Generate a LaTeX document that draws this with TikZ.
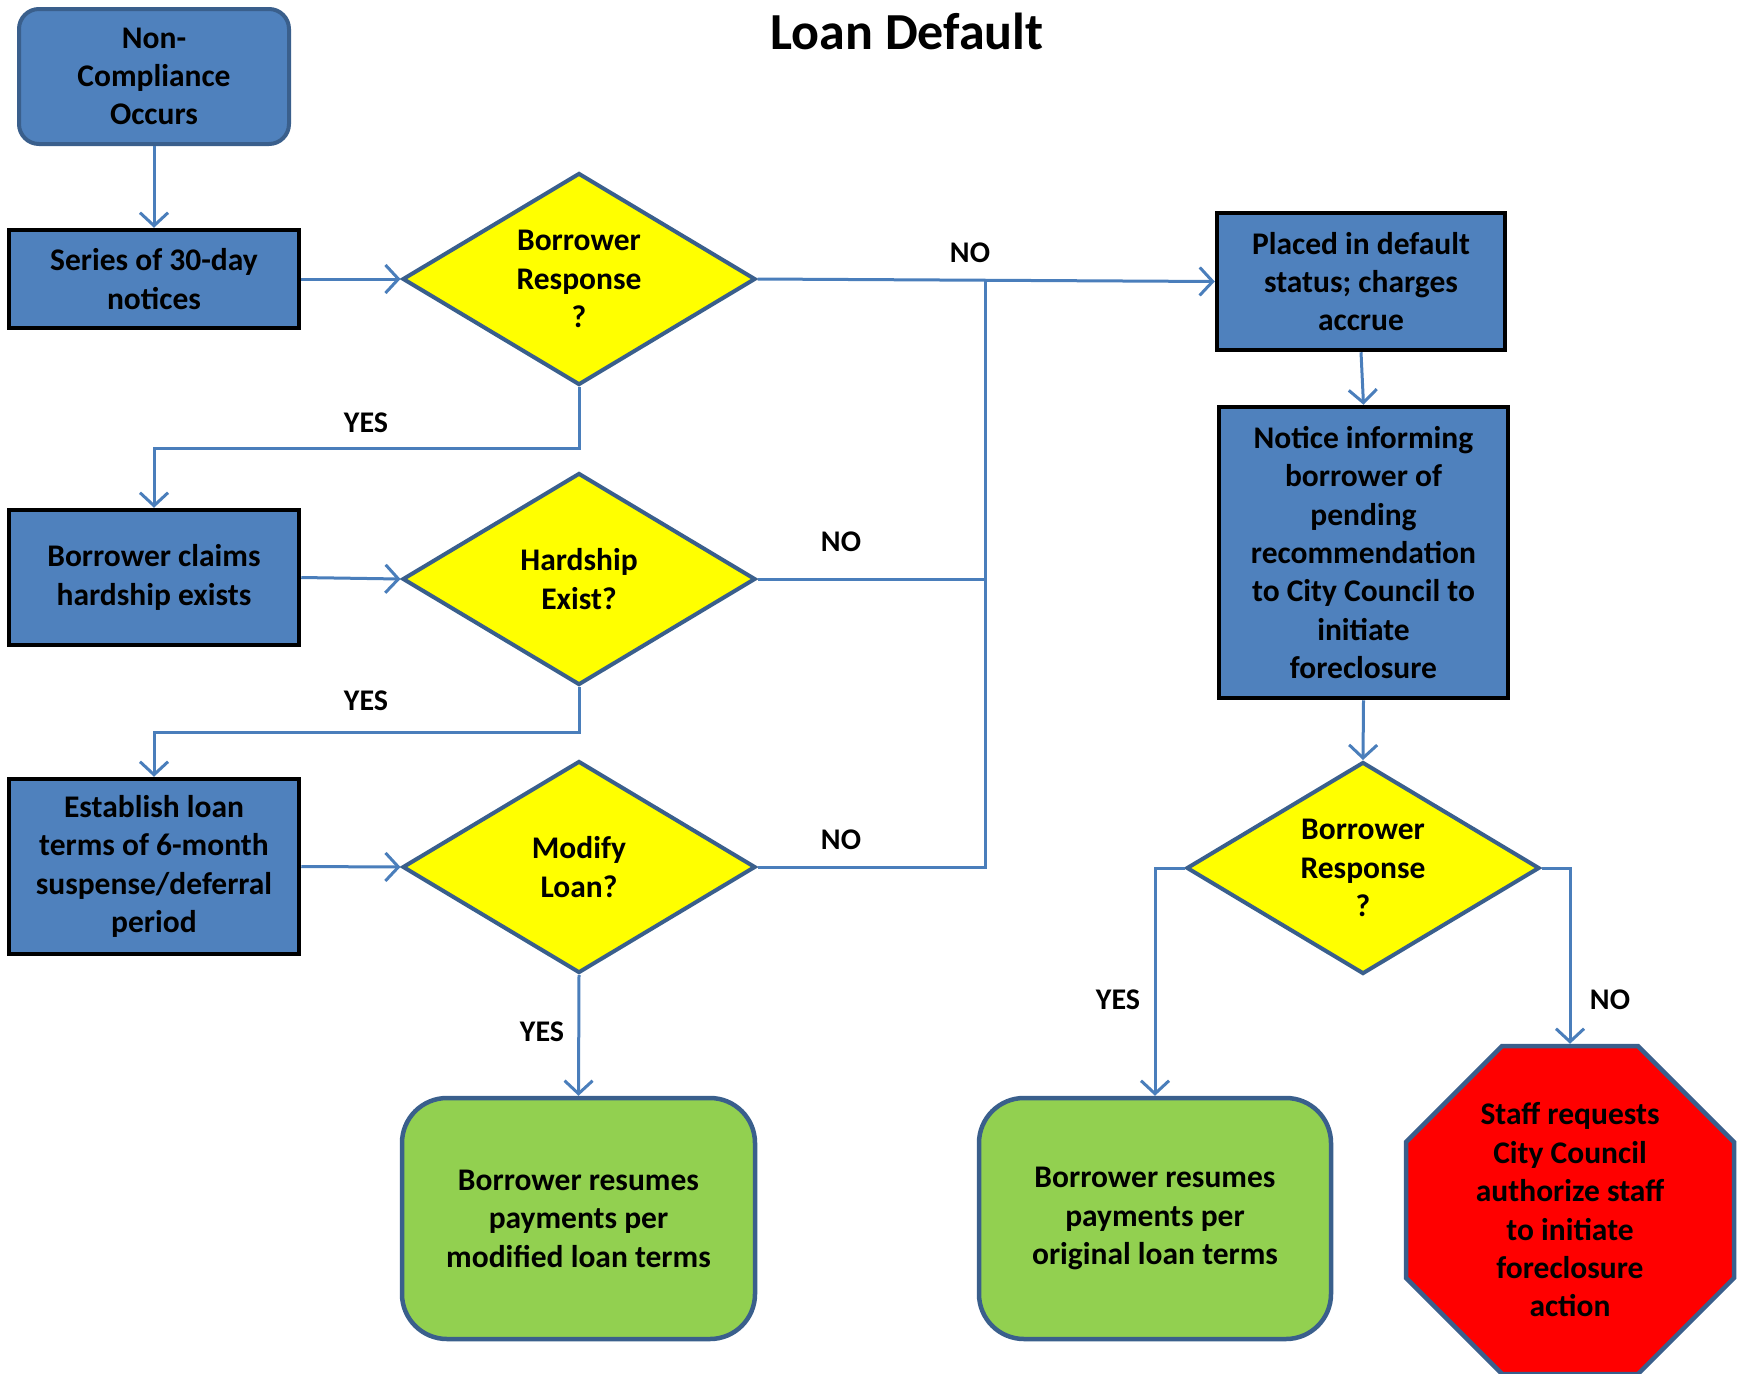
\documentclass[tikz,border=0pt]{standalone}
\usepackage{fontspec}
\setmainfont{Carlito}
\usetikzlibrary{shapes.geometric,arrows.meta}
\definecolor{boxblue}{HTML}{4F81BD}
\definecolor{bordblue}{HTML}{3A5F8C}
\definecolor{linkblue}{HTML}{4A7EBB}
\definecolor{leafgreen}{HTML}{92D050}
\definecolor{decyellow}{HTML}{FFFF00}
\definecolor{stopred}{HTML}{FF0000}
\begin{document}
\begin{tikzpicture}[x=1pt,y=-1pt,
  txt/.style={font=\fontsize{31.5}{38.4}\selectfont\bfseries, align=center},
  bluebox/.style={txt, rectangle, fill=boxblue, draw=black, line width=4.5pt, inner sep=0pt},
  startbox/.style={txt, rectangle, rounded corners=20pt, fill=boxblue, draw=bordblue, line width=4pt, inner sep=0pt},
  decision/.style={txt, diamond, aspect=1.665, fill=decyellow, draw=bordblue, line width=4pt, inner sep=0pt, minimum width=353pt, minimum height=212pt},
  endbox/.style={txt, rectangle, rounded corners=45pt, fill=leafgreen, draw=bordblue, line width=4.5pt, inner sep=0pt},
  stopsign/.style={regular polygon, regular polygon sides=8, minimum size=355pt, fill=stopred, draw=bordblue, line width=4.5pt, inner sep=0pt},
  conn/.style={draw=linkblue, line width=3pt, -{Straight Barb[length=13pt,width=28pt,line width=3pt]}},
  link/.style={draw=linkblue, line width=3pt},
  lbl/.style={txt, font=\fontsize{30}{36}\selectfont\bfseries}
]
\useasboundingbox (0,0) rectangle (1742,1373);

\node[txt, font=\fontsize{52}{60}\selectfont\bfseries] (title) at (907,31) {Loan Default};

\node[startbox, minimum width=270pt, minimum height=135pt] (nc) at (154,76.5) {Non-\\Compliance\\Occurs};
\node[bluebox, minimum width=290pt, minimum height=98pt] (series) at (154,279) {Series of 30-day\\notices};
\node[bluebox, minimum width=290pt, minimum height=135pt] (claims) at (154,577.5) {Borrower claims\\hardship exists};
\node[bluebox, minimum width=290pt, minimum height=175pt] (establish) at (154,866.5) {Establish loan\\terms of 6-month\\suspense/deferral\\period};

\node[decision] (d1) at (579,279) {Borrower\\Response\\?};
\node[decision] (d2) at (579,579) {Hardship\\Exist?};
\node[decision] (d3) at (579,867) {Modify\\Loan?};

\node[bluebox, minimum width=288pt, minimum height=137pt] (placed) at (1361,281.5) {Placed in default\\status; charges\\accrue};
\node[bluebox, minimum width=289pt, minimum height=291pt] (notice) at (1363.5,552.5) {Notice informing\\borrower of\\pending\\recommendation\\to City Council to\\initiate\\foreclosure};
\node[decision] (d4) at (1363,868) {Borrower\\Response\\?};

\node[endbox, minimum width=353pt, minimum height=241pt] (g1) at (578.5,1218.5) {Borrower resumes\\payments per\\modified loan terms};
\node[endbox, minimum width=352pt, minimum height=241pt] (g2) at (1155,1218.5) {Borrower resumes\\payments per\\original loan terms};
\node[stopsign] (stop) at (1570,1210) {};
\node[txt] (stoptext) at (stop.center) {Staff requests\\City Council\\authorize staff\\to initiate\\foreclosure\\action};

\coordinate (j1) at (985,280);
\coordinate (j2) at (985,579);
\coordinate (k1) at (579,448);
\coordinate (k2) at (579,732);

\draw[conn] (nc.south) -- (series.north);
\draw[conn] (series.east) -- (d1.west);
\draw[conn] (claims.east) -- (d2.west);
\draw[conn] (establish.east) -- (d3.west);
\draw[conn] (d1.east) -- (placed.west);
\draw[link] (d2.east) -- (j2);
\draw[link] (d3.east) -| (j1);
\draw[conn] (d1.south) -- (k1) -| (claims.north);
\draw[conn] (d2.south) -- (k2) -| (establish.north);
\draw[conn] (d3.south) -- (g1.north);
\draw[conn] (placed.south) -- (notice.north);
\draw[conn] (notice.south) -- (d4.north);
\draw[conn] (d4.west) -| (g2.north);
\draw[conn] (d4.east) -| (stop.north);

\node[lbl] (no1) at (970,253) {NO};
\node[lbl] (yes1) at (366,423) {YES};
\node[lbl] (no2) at (841,542) {NO};
\node[lbl] (yes2) at (366,701) {YES};
\node[lbl] (no3) at (841,840) {NO};
\node[lbl] (yes3) at (542,1032) {YES};
\node[lbl] (yes4) at (1118,1000) {YES};
\node[lbl] (no4) at (1610,1000) {NO};
\end{tikzpicture}
\end{document}
